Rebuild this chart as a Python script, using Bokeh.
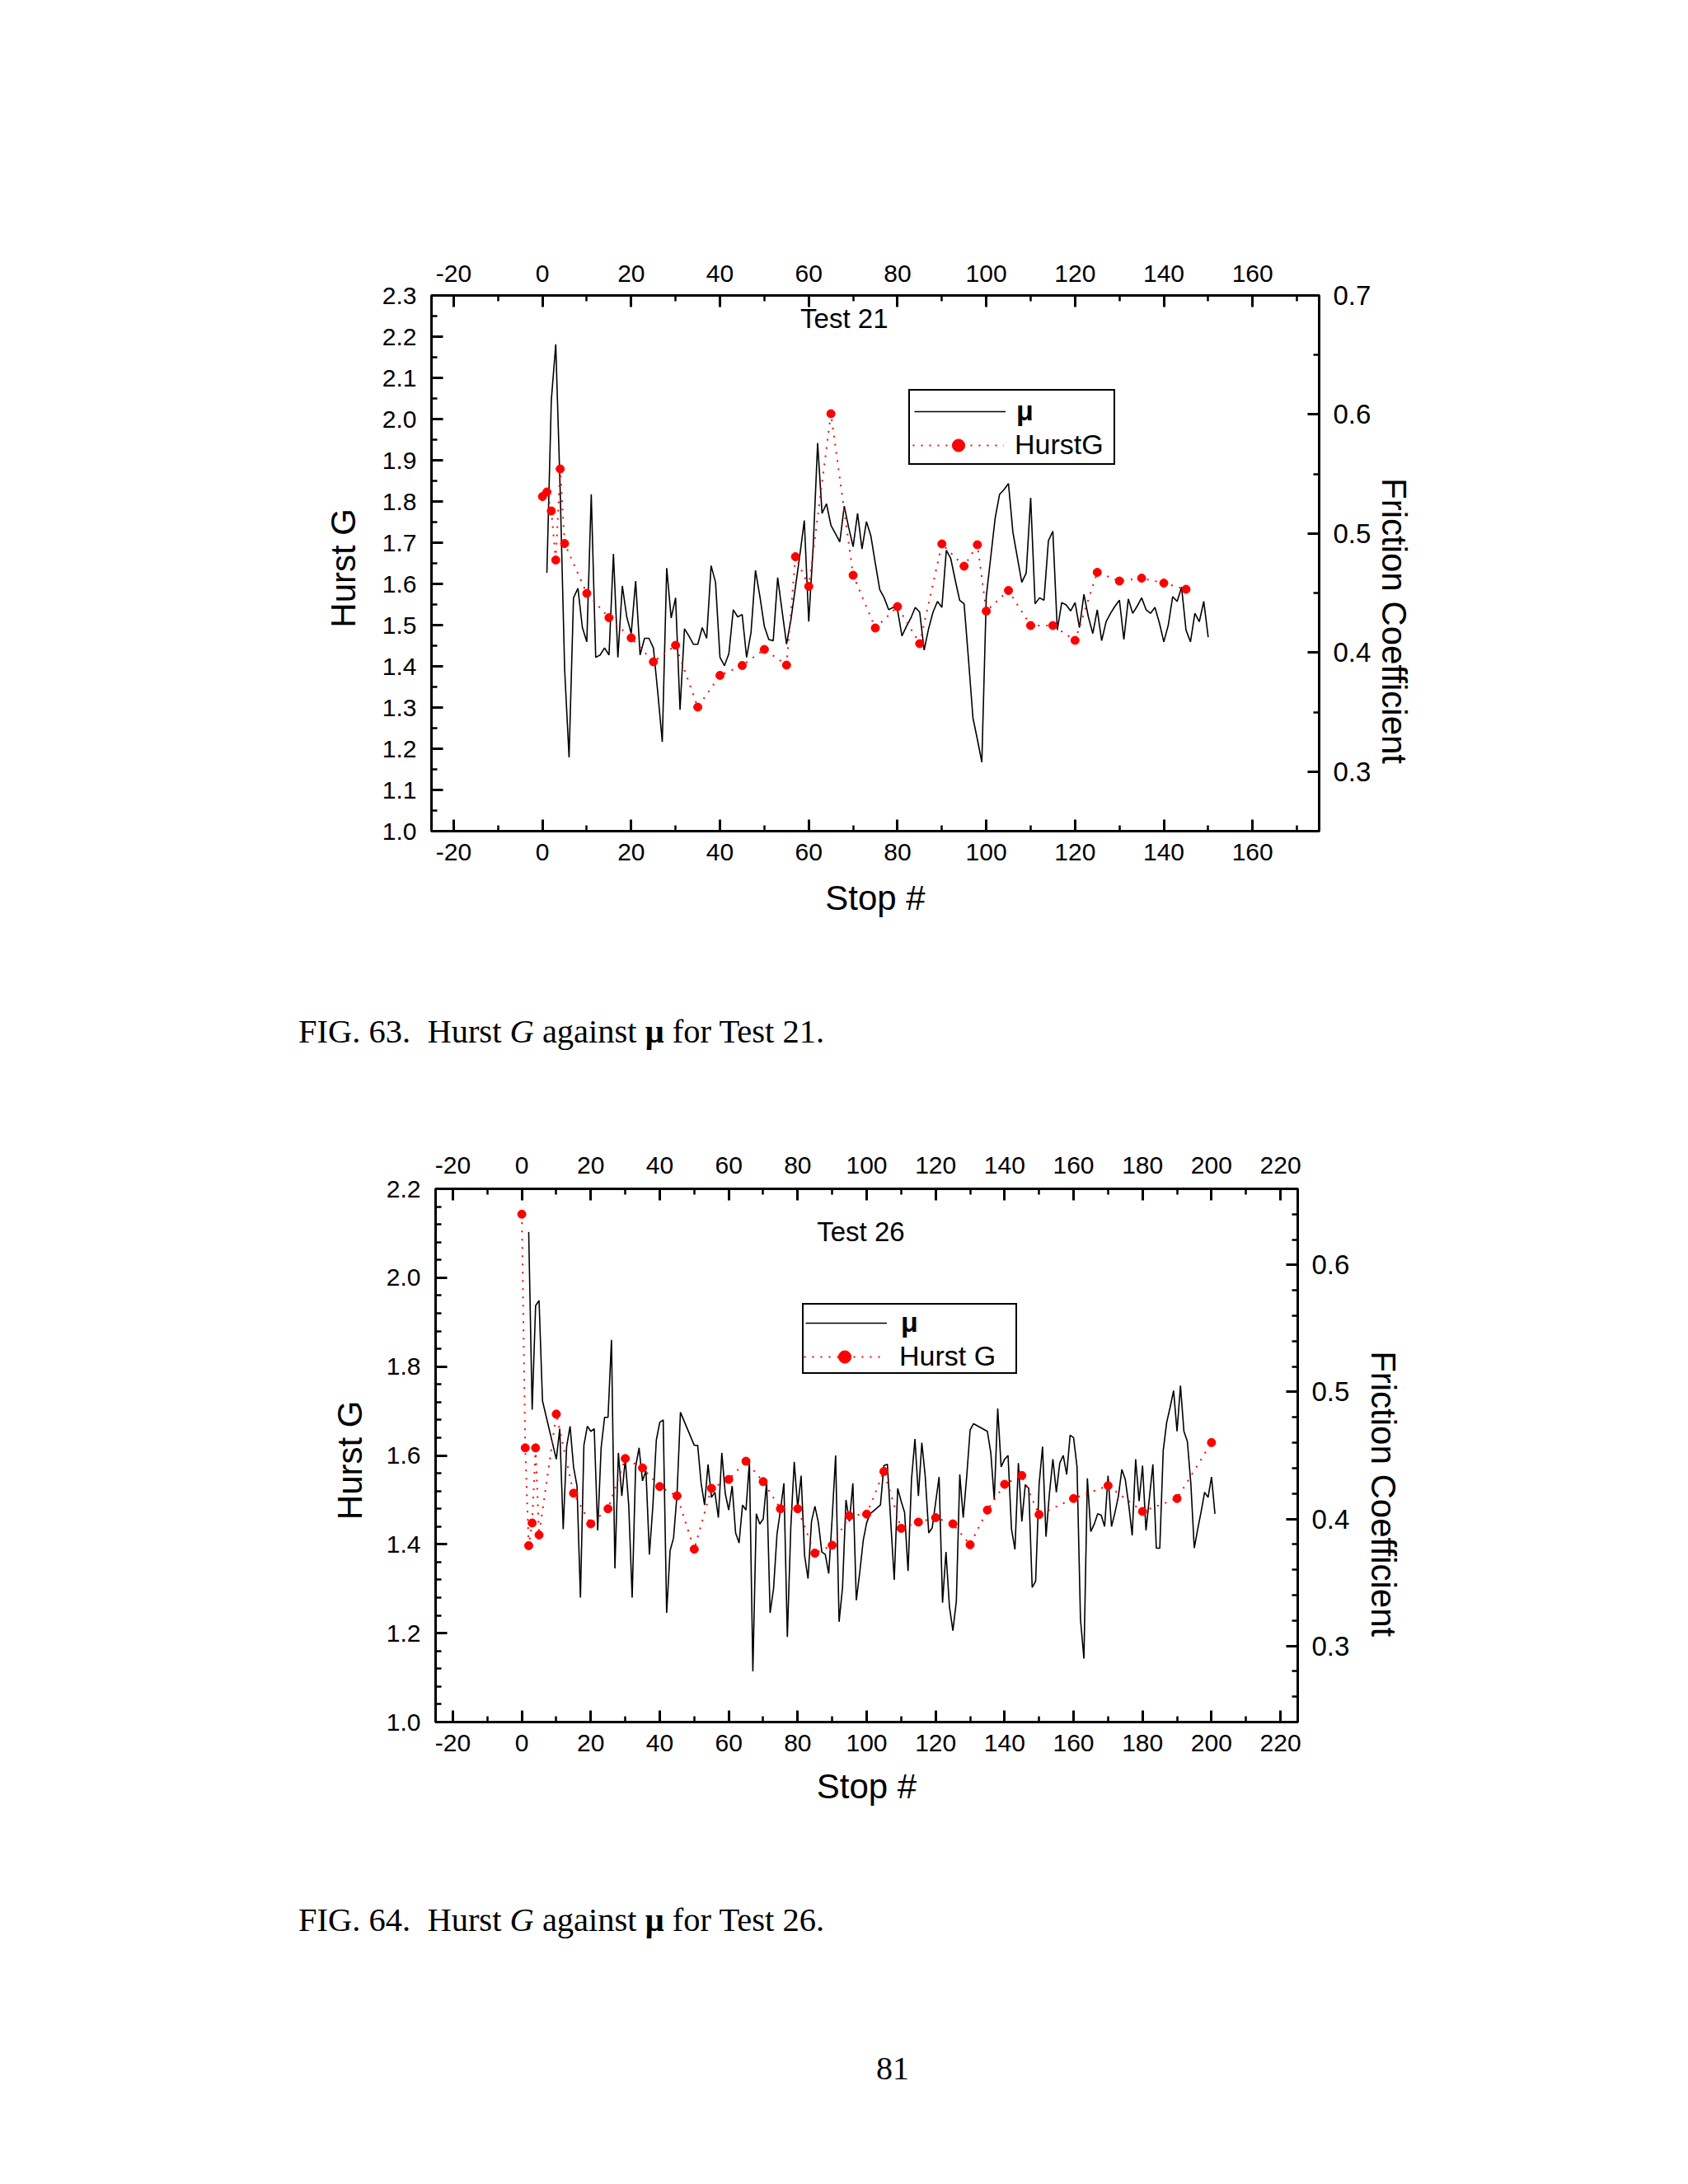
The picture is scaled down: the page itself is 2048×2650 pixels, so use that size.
import math
from bokeh.plotting import figure
from bokeh.models import (Range1d, LinearAxis, FixedTicker, PrintfTickFormatter,
                          Legend, LegendItem, Label, Div, Spacer)
from bokeh.layouts import column
from bokeh.embed import file_html
from bokeh.resources import INLINE

FONT = "Liberation Sans"

# ---------------- Test 21 data ----------------
t21_mu_stop = list(range(1, 151))
t21_mu = [
    0.467, 0.612, 0.659, 0.536, 0.386, 0.312, 0.446, 0.454, 0.421, 0.409,
    0.533, 0.396, 0.398, 0.404, 0.398, 0.483, 0.396, 0.456, 0.430, 0.416,
    0.460, 0.398, 0.412, 0.412, 0.404, 0.366, 0.325, 0.471, 0.429, 0.446,
    0.352, 0.420, 0.414, 0.407, 0.407, 0.421, 0.412, 0.473, 0.459, 0.396,
    0.389, 0.399, 0.436, 0.430, 0.432, 0.396, 0.417, 0.469, 0.447, 0.422,
    0.411, 0.410, 0.463, 0.435, 0.407, 0.428, 0.455, 0.482, 0.511, 0.426,
    0.489, 0.576, 0.517, 0.525, 0.507, 0.500, 0.493, 0.523, 0.505, 0.489,
    0.517, 0.487, 0.510, 0.498, 0.475, 0.453, 0.446, 0.436, 0.438, 0.436,
    0.414, 0.422, 0.429, 0.438, 0.434, 0.402, 0.420, 0.434, 0.443, 0.438,
    0.486, 0.479, 0.461, 0.444, 0.441, 0.394, 0.345, 0.327, 0.308, 0.447,
    0.480, 0.513, 0.533, 0.537, 0.542, 0.501, 0.480, 0.459, 0.467, 0.530,
    0.441, 0.446, 0.444, 0.494, 0.502, 0.419, 0.442, 0.440, 0.435, 0.442,
    0.421, 0.449, 0.430, 0.416, 0.436, 0.410, 0.426, 0.433, 0.439, 0.444,
    0.411, 0.445, 0.433, 0.439, 0.446, 0.436, 0.433, 0.438, 0.425, 0.409,
    0.423, 0.447, 0.443, 0.455, 0.419, 0.409, 0.433, 0.426, 0.443, 0.413,
]
t21_g_stop = [0, 1, 2, 3, 4, 5, 10, 15, 20, 25, 30, 35, 40, 45, 50, 55, 57, 60,
              65, 70, 75, 80, 85, 90, 95, 98, 100, 105, 110, 115, 120, 125, 130,
              135, 140, 145]
t21_g = [1.812, 1.823, 1.777, 1.658, 1.879, 1.698, 1.577, 1.518, 1.469, 1.411,
         1.451, 1.301, 1.378, 1.402, 1.441, 1.403, 1.666, 1.594, 2.013, 1.621,
         1.493, 1.545, 1.455, 1.697, 1.643, 1.695, 1.534, 1.584, 1.499, 1.499,
         1.463, 1.628, 1.607, 1.614, 1.602, 1.587]
t21_x_ticks = [-20, 0, 20, 40, 60, 80, 100, 120, 140, 160]
t21_g_ticks = [1.0, 1.1, 1.2, 1.3, 1.4, 1.5, 1.6, 1.7, 1.8, 1.9, 2.0, 2.1, 2.2, 2.3]
t21_mu_ticks = [0.3, 0.4, 0.5, 0.6, 0.7]

# ---------------- Test 26 data ----------------
t26_mu_stop = (list(range(2, 7)) + list(range(10, 47)) + list(range(50, 102))
               + list(range(104, 132)) + list(range(135, 202)))
t26_mu = [
    0.626, 0.486, 0.568, 0.572, 0.493,
    0.447, 0.471, 0.392, 0.457, 0.473, 0.441, 0.426, 0.338, 0.458, 0.473,
    0.469, 0.471, 0.391, 0.456, 0.480, 0.480, 0.541, 0.361, 0.452, 0.418,
    0.447, 0.411, 0.338, 0.441, 0.456, 0.430, 0.438, 0.372, 0.410, 0.462,
    0.476, 0.478, 0.326, 0.375, 0.385, 0.419, 0.484,
    0.458, 0.458, 0.428, 0.411, 0.443, 0.417, 0.421, 0.401, 0.452, 0.420,
    0.407, 0.426, 0.389, 0.381, 0.411, 0.407, 0.445, 0.280, 0.404, 0.396,
    0.400, 0.429, 0.326, 0.345, 0.388, 0.407, 0.428, 0.307, 0.393, 0.445,
    0.409, 0.434, 0.371, 0.353, 0.398, 0.410, 0.397, 0.374, 0.372, 0.357,
    0.401, 0.450, 0.319, 0.346, 0.415, 0.398, 0.428, 0.336, 0.358, 0.383,
    0.397, 0.404,
    0.411, 0.442, 0.443, 0.397, 0.352, 0.424, 0.414, 0.405, 0.359, 0.431,
    0.463, 0.418, 0.460, 0.433, 0.389, 0.393, 0.413, 0.433, 0.334, 0.374,
    0.331, 0.312, 0.335, 0.435, 0.401, 0.433, 0.470, 0.475,
    0.469, 0.452, 0.415, 0.487, 0.441, 0.447, 0.450, 0.392, 0.376, 0.444,
    0.398, 0.427, 0.424, 0.346, 0.351, 0.427, 0.457, 0.386, 0.420, 0.447,
    0.421, 0.444, 0.450, 0.435, 0.466, 0.464, 0.441, 0.321, 0.290, 0.432,
    0.390, 0.396, 0.404, 0.403, 0.394, 0.434, 0.394, 0.405, 0.418, 0.439,
    0.431, 0.411, 0.387, 0.447, 0.414, 0.442, 0.391, 0.417, 0.443, 0.377,
    0.377, 0.454, 0.476, 0.488, 0.501, 0.469, 0.505, 0.469, 0.461, 0.428,
    0.377, 0.392, 0.406, 0.421, 0.417, 0.433, 0.404,
]
t26_g_stop = [0, 1, 2, 3, 4, 5, 10, 15, 20, 25, 30, 35, 40, 45, 50, 55, 60, 65,
              70, 75, 80, 85, 90, 95, 100, 105, 110, 115, 120, 125, 130, 135,
              140, 145, 150, 160, 170, 180, 190, 200]
t26_g = [2.143, 1.617, 1.397, 1.448, 1.617, 1.421, 1.693, 1.515, 1.446, 1.480,
         1.593, 1.572, 1.530, 1.509, 1.389, 1.526, 1.546, 1.587, 1.541, 1.480,
         1.480, 1.380, 1.398, 1.464, 1.468, 1.564, 1.436, 1.450, 1.460, 1.446,
         1.399, 1.477, 1.535, 1.555, 1.467, 1.503, 1.532, 1.474, 1.503, 1.629]
t26_x_ticks = [-20, 0, 20, 40, 60, 80, 100, 120, 140, 160, 180, 200, 220]
t26_g_ticks = [1.0, 1.2, 1.4, 1.6, 1.8, 2.0, 2.2]
t26_mu_ticks = [0.3, 0.4, 0.5, 0.6]


def minors(start, stop, step):
    out = []
    v = start
    while v <= stop + 1e-9:
        out.append(round(v, 4))
        v += step
    return out


def style_axis(ax, standoff, size="30px"):
    ax.axis_line_width = 3
    ax.axis_line_color = "black"
    ax.major_tick_in = 14
    ax.major_tick_out = 0
    ax.minor_tick_in = 7
    ax.minor_tick_out = 0
    ax.major_tick_line_width = 3
    ax.minor_tick_line_width = 2.5
    ax.major_tick_line_color = "black"
    ax.minor_tick_line_color = "black"
    ax.major_label_text_font = FONT
    ax.major_label_text_font_size = size
    ax.major_label_text_color = "black"
    ax.major_label_standoff = standoff
    ax.axis_label_text_font = FONT
    ax.axis_label_text_font_size = "42px"
    ax.axis_label_text_font_style = "normal"
    ax.axis_label_text_color = "black"


def make_legend(c, items, style, framed):
    return Legend(items=items, location=c["leg_loc"], padding=c["leg_pad"], spacing=1,
                  glyph_width=c["leg_gw"], glyph_height=38, label_height=38,
                  label_width=c["leg_lw"], label_standoff=c["leg_so"],
                  label_text_font=FONT, label_text_font_size="34px",
                  label_text_font_style=style, label_text_color="black",
                  border_line_color="black", border_line_width=2.5,
                  border_line_alpha=1.0 if framed else 0.0,
                  background_fill_color="white",
                  background_fill_alpha=1.0 if framed else 0.0,
                  margin=0)


def make_chart(c):
    p = figure(frame_width=c["fw"], frame_height=c["fh"],
               min_border_left=c["bl"], min_border_right=c["br"],
               min_border_top=c["bt"], min_border_bottom=c["bb"],
               x_range=Range1d(*c["xr"]), y_range=Range1d(*c["yr"]),
               x_axis_location=None, y_axis_location=None,
               output_backend="svg", toolbar_location=None, tools="",
               background_fill_color="white", border_fill_color="white",
               outline_line_color="black", outline_line_width=3,
               margin=c["margin"])
    p.grid.visible = False
    p.extra_y_ranges = {"mu": Range1d(*c["mr"])}

    xt = FixedTicker(ticks=c["xticks"], minor_ticks=c["xminor"])
    below = LinearAxis(ticker=xt, formatter=PrintfTickFormatter(format="%d"),
                       axis_label="Stop #")
    style_axis(below, 15)
    below.axis_label_standoff = c["stop_standoff"]
    above = LinearAxis(ticker=xt, formatter=PrintfTickFormatter(format="%d"))
    style_axis(above, c["top_standoff"])
    left = LinearAxis(ticker=FixedTicker(ticks=c["gticks"], minor_ticks=c["gminor"]),
                      formatter=PrintfTickFormatter(format="%.1f"),
                      axis_label="Hurst G\u00a0")
    style_axis(left, 18)
    left.axis_label_standoff = c["left_label_standoff"]
    right = LinearAxis(y_range_name="mu",
                       ticker=FixedTicker(ticks=c["mticks"], minor_ticks=c["mminor"]),
                       formatter=PrintfTickFormatter(format="%.1f"),
                       axis_label="\u00a0" * c["fc_pad"] + "Friction Coefficient")
    style_axis(right, 17, "33px")
    right.axis_label_standoff = c["right_label_standoff"]
    p.add_layout(below, "below")
    p.add_layout(above, "above")
    p.add_layout(left, "left")
    p.add_layout(right, "right")

    mu_r = p.line(c["mu_x"], c["mu_y"], y_range_name="mu", line_color="black",
                  line_width=1.6)
    g_line = p.line(c["g_x"], c["g_y"], line_color="#ff0000", line_width=2,
                    line_dash="2 8")
    g_pts = p.scatter(c["g_x"], c["g_y"], marker="circle", size=10,
                      fill_color="#ff0000", line_color="#ff0000")
    blank_r = p.line(x=[], y=[], line_alpha=0)

    # framed legend: bold "μ" row plus an empty second row
    leg_a = make_legend(c, [LegendItem(label="μ", renderers=[mu_r]),
                            LegendItem(label="", renderers=[blank_r])], "bold", True)
    # identical-geometry overlay: empty first row, normal-weight Hurst G second row
    leg_b = make_legend(c, [LegendItem(label="", renderers=[blank_r]),
                            LegendItem(label=c["g_label"], renderers=[g_line, g_pts])],
                        "normal", False)
    p.add_layout(leg_a)
    p.add_layout(leg_b)

    p.add_layout(Label(x=c["title_xy"][0], y=c["title_xy"][1], text=c["title"],
                       text_align="center", text_baseline="middle",
                       text_font=FONT, text_font_size="33px", text_color="black"))
    return p


c1 = dict(fw=1077, fh=650, bl=523, br=440, bt=358, bb=220, margin=(0, 0, 0, 0),
          xr=(-25, 175), yr=(1.0, 2.3), mr=(0.25, 0.7),
          xticks=t21_x_ticks, xminor=minors(-20, 170, 10),
          gticks=t21_g_ticks, gminor=minors(1.0, 2.3, 0.05),
          mticks=t21_mu_ticks, mminor=minors(0.25, 0.7, 0.05),
          top_standoff=17, left_label_standoff=21, right_label_standoff=2,
          stop_standoff=19, fc_pad=12,
          mu_x=t21_mu_stop, mu_y=t21_mu, g_x=t21_g_stop, g_y=t21_g,
          g_label="HurstG", leg_loc=(579, 444), leg_pad=5, leg_gw=111,
          leg_lw=113, leg_so=13,
          title="Test 21", title_xy=(68.0, 2.244))

c2 = dict(fw=1046, fh=647, bl=523, br=466, bt=166, bb=217, margin=(0, 0, 0, 5),
          xr=(-25, 225), yr=(1.0, 2.2), mr=(0.24, 0.66),
          xticks=t26_x_ticks, xminor=minors(-20, 220, 10),
          gticks=t26_g_ticks, gminor=minors(1.0, 2.2, 0.04),
          mticks=t26_mu_ticks, mminor=minors(0.24, 0.66, 0.02),
          top_standoff=19, left_label_standoff=18, right_label_standoff=15,
          stop_standoff=16, fc_pad=8,
          mu_x=t26_mu_stop, mu_y=t26_mu, g_x=t26_g_stop, g_y=t26_g,
          g_label="Hurst G", leg_loc=(445, 422), leg_pad=2, leg_gw=99,
          leg_lw=137, leg_so=17,
          title="Test 26", title_xy=(98.3, 2.1036))

p1 = make_chart(c1)
p2 = make_chart(c2)

CAP = ("<div style=\"font-family:'Liberation Serif',serif;font-size:40.5px;"
       "line-height:48px;padding-left:362px;white-space:nowrap;color:#000;\">{}</div>")
cap1 = Div(text=CAP.format("FIG. 63.&nbsp; Hurst <i>G</i> against <b>μ</b> for Test 21."),
           width=2032, height=48, margin=0)
cap2 = Div(text=CAP.format("FIG. 64.&nbsp; Hurst <i>G</i> against <b>μ</b> for Test 26."),
           width=2032, height=48, margin=0)
pnum = Div(text=("<div style=\"font-family:'Liberation Serif',serif;font-size:40px;"
                 "line-height:48px;padding-left:1063px;color:#000;\">81</div>"),
           width=2032, height=48, margin=0)

layout = column(p1, cap1, p2, cap2, Spacer(width=10, height=132, margin=0), pnum,
                spacing=0)

open("out.html", "w").write(file_html(layout, INLINE))
